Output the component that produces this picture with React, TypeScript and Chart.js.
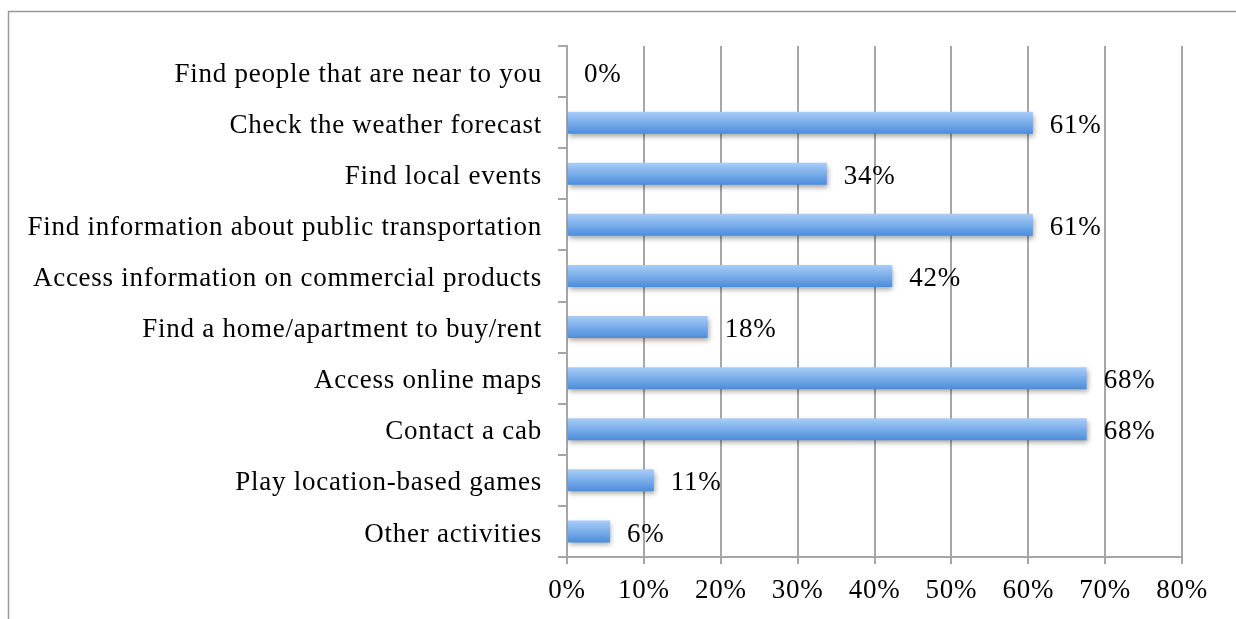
import React, { useEffect, useRef } from "react";
import { Chart, registerables } from "chart.js";

Chart.register(...registerables);

const categories = [
  "Find people that are near to you",
  "Check the weather forecast",
  "Find local events",
  "Find information about public transportation",
  "Access information on commercial products",
  "Find a home/apartment to buy/rent",
  "Access online maps",
  "Contact a cab",
  "Play location-based games",
  "Other activities",
];
const values = [0, 60.6, 33.8, 60.6, 42.3, 18.3, 67.6, 67.6, 11.3, 5.6];
const valueLabels = ["0%", "61%", "34%", "61%", "42%", "18%", "68%", "68%", "11%", "6%"];

const FONT = "'Liberation Serif', 'Times New Roman', serif";
const FONT_SIZE = 27;
const LETTER_SPACING = "0.75px";
const GRID = "#a6a6a6";

const framePlugin = {
  id: "frame",
  beforeDraw(chart: any) {
    const ctx = chart.ctx;
    try {
      ctx.letterSpacing = LETTER_SPACING;
    } catch (e) {}
    ctx.save();
    ctx.fillStyle = "#ffffff";
    ctx.fillRect(0, 0, chart.width, chart.height);
    ctx.strokeStyle = "#9a9a9a";
    ctx.lineWidth = 1.5;
    ctx.beginPath();
    ctx.moveTo(chart.width, 11.5);
    ctx.lineTo(8.5, 11.5);
    ctx.lineTo(8.5, chart.height);
    ctx.stroke();
    ctx.restore();
  },
};

const shadowPlugin = {
  id: "barShadow",
  beforeDatasetDraw(chart: any) {
    const ctx = chart.ctx;
    ctx.save();
    ctx.shadowColor = "rgba(0,0,0,0.35)";
    ctx.shadowBlur = 5;
    ctx.shadowOffsetX = 1;
    ctx.shadowOffsetY = 3;
  },
  afterDatasetDraw(chart: any) {
    chart.ctx.restore();
  },
};

const labelPlugin = {
  id: "valueLabels",
  afterDatasetsDraw(chart: any) {
    const ctx = chart.ctx;
    const meta = chart.getDatasetMeta(0);
    ctx.save();
    ctx.font = `${FONT_SIZE}px ${FONT}`;
    ctx.fillStyle = "#000000";
    ctx.textAlign = "left";
    ctx.textBaseline = "middle";
    meta.data.forEach((el: any, i: number) => {
      const p = el.getProps(["x", "y"], true);
      ctx.fillText(valueLabels[i], p.x + 17, p.y + 3);
    });
    ctx.restore();
  },
};

const BAR_PCT = 0.43;

export default function App() {
  const ref = useRef<HTMLCanvasElement>(null);
  useEffect(() => {
    if (!ref.current) return;
    const chart = new Chart(ref.current, {
      type: "bar",
      data: {
        labels: categories,
        datasets: [
          {
            data: values,
            backgroundColor: (c: any) => {
              const chart = c.chart;
              const y = chart.scales && chart.scales.y;
              if (!chart.chartArea || !y || c.dataIndex === undefined) return "#7aaeea";
              const center = y.getPixelForValue(c.dataIndex);
              const half = ((y.height / categories.length) * BAR_PCT) / 2;
              const g = chart.ctx.createLinearGradient(0, center - half, 0, center + half);
              g.addColorStop(0, "#a9cdf8");
              g.addColorStop(1, "#4b8ddb");
              return g;
            },
            borderWidth: 0,
            barPercentage: BAR_PCT,
            categoryPercentage: 1,
          },
        ],
      },
      options: {
        indexAxis: "y",
        animation: false,
        responsive: false,
        maintainAspectRatio: false,
        layout: { padding: { top: 46, right: 54, bottom: 12, left: 10 } },
        plugins: { legend: { display: false }, tooltip: { enabled: false } },
        scales: {
          x: {
            min: 0,
            max: 80,
            ticks: {
              stepSize: 10,
              callback: (v: any) => v + "%",
              font: { family: FONT, size: FONT_SIZE },
              color: "#000000",
              padding: 11,
              maxRotation: 0,
            },
            grid: { color: GRID, lineWidth: 2, tickLength: 7, tickColor: GRID },
            border: { color: GRID, width: 2 },
            afterFit: (s: any) => {
              s.height = 50;
            },
          },
          y: {
            offset: true,
            ticks: {
              font: { family: FONT, size: FONT_SIZE },
              color: "#000000",
              padding: 16,
              labelOffset: 3,
              autoSkip: false,
            },
            grid: {
              offset: true,
              drawOnChartArea: false,
              drawTicks: true,
              tickLength: 9,
              color: GRID,
              lineWidth: 2,
            },
            border: { color: GRID, width: 2 },
            afterFit: (s: any) => {
              s.width = 557;
            },
          },
        },
      },
      plugins: [framePlugin, shadowPlugin, labelPlugin],
    });
    return () => chart.destroy();
  }, []);
  return (
    <div style={{ position: "absolute", left: 0, top: 0, width: 1236, height: 619 }}>
      <canvas ref={ref} width={1236} height={619} style={{ display: "block" }} />
    </div>
  );
}
